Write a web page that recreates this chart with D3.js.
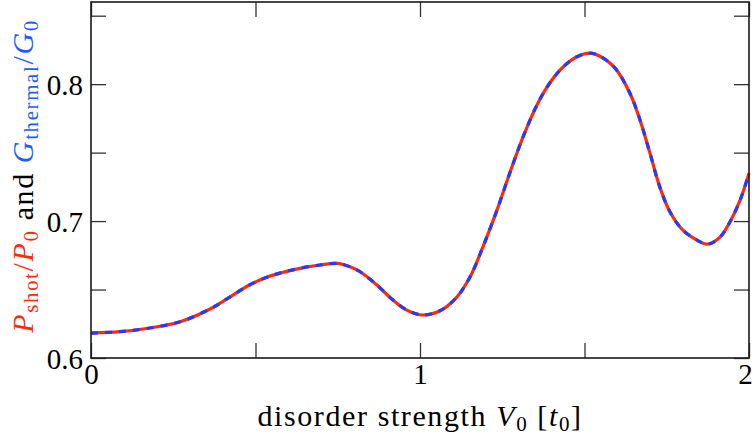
<!DOCTYPE html>
<html>
<head>
<meta charset="utf-8">
<script src="https://cdn.jsdelivr.net/npm/d3@7"></script>
<style>
  body { margin: 0; background: #fff; }
  svg text { font-family: "Liberation Serif", "DejaVu Serif", serif; fill: #000; }
</style>
</head>
<body>
<svg id="chart" width="753" height="439"></svg>
<script>
// disorder strength V0 [t0]
const disorder = [0, 0.088, 0.179, 0.271, 0.362, 0.422, 0.483, 0.544, 0.574, 0.635, 0.696, 0.748, 0.787, 0.818,
  0.869, 0.918, 0.960, 1.009, 1.061, 1.112, 1.152, 1.191, 1.234, 1.274, 1.313, 1.356, 1.395, 1.435, 1.477,
  1.517, 1.547, 1.593, 1.638, 1.669, 1.699, 1.729, 1.760, 1.799, 1.842, 1.875, 1.912, 1.942, 1.973, 2.0];
// P_shot / P_0
const shotNoise = [0.6182, 0.6192, 0.6219, 0.6265, 0.6358, 0.6445, 0.6535, 0.6598, 0.6620, 0.6655, 0.6679, 0.6691, 0.6666, 0.6630,
  0.6533, 0.6423, 0.6350, 0.6314, 0.6345, 0.6445, 0.6591, 0.6810, 0.7080, 0.7358, 0.7613, 0.7850, 0.8010, 0.8125, 0.8200,
  0.8226, 0.8204, 0.8117, 0.7934, 0.7737, 0.7496, 0.7248, 0.7066, 0.6934, 0.6861, 0.6832, 0.6883, 0.6993, 0.7153, 0.7350];
// G_thermal / G_0 (lies on top of the shot-noise curve)
const thermalCond = [0.6182, 0.6192, 0.6219, 0.6265, 0.6358, 0.6445, 0.6535, 0.6598, 0.6620, 0.6655, 0.6679, 0.6691, 0.6666, 0.6630,
  0.6533, 0.6423, 0.6350, 0.6314, 0.6345, 0.6445, 0.6591, 0.6810, 0.7080, 0.7358, 0.7613, 0.7850, 0.8010, 0.8125, 0.8200,
  0.8226, 0.8204, 0.8117, 0.7934, 0.7737, 0.7496, 0.7248, 0.7066, 0.6934, 0.6861, 0.6832, 0.6883, 0.6993, 0.7153, 0.7350];

const xTicks = [0, 0.5, 1, 1.5, 2];
const xTickLabels = [0, 1, 2];
const yTicks = [0.6, 0.65, 0.7, 0.75, 0.8, 0.85];
const yTickLabels = [0.6, 0.7, 0.8];

const red = "#ff2a0a";
const blue = "#1f3cff";
const labelBlue = "#1f5cff";

const margin = { left: 91, right: 4, top: 2, bottom: 81 };
const svg = d3.select("#chart");
const width = +svg.attr("width") - margin.left - margin.right;
const height = +svg.attr("height") - margin.top - margin.bottom;

const x = d3.scaleLinear().domain([0, 2]).range([0, width]);
const y = d3.scaleLinear().domain([0.6, 0.86]).range([height, 0]);

const g = svg.append("g").attr("transform", `translate(${margin.left},${margin.top})`);

// curves
const line = d3.line().curve(d3.curveCatmullRom.alpha(0.5))
  .x(d => x(d[0])).y(d => y(d[1]));

g.append("path")
  .datum(d3.zip(disorder, shotNoise))
  .attr("fill", "none")
  .attr("stroke", red)
  .attr("stroke-width", 3.2)
  .attr("d", line);

g.append("path")
  .datum(d3.zip(disorder, thermalCond))
  .attr("fill", "none")
  .attr("stroke", blue)
  .attr("stroke-width", 3.2)
  .attr("stroke-dasharray", "7,7")
  .attr("d", line);

// inward ticks on all four sides
const tickLen = 15;
const fmt = d3.format(".1f");
const tickStyle = sel => sel.call(s => s.select(".domain").remove())
  .call(s => s.selectAll(".tick line").attr("stroke", "#333").attr("stroke-width", 1.3));

g.append("g").attr("transform", `translate(0,${height})`)
  .call(d3.axisBottom(x).tickValues(xTicks).tickSize(-tickLen).tickFormat(d => xTickLabels.includes(d) ? d : ""))
  .call(tickStyle)
  .call(s => s.selectAll(".tick text").attr("font-size", 29).attr("y", 5).attr("dy", "0.71em")
    .attr("dx", d => d === 2 ? -4 : 0)
    .style("font-family", '"Liberation Serif", serif'));

g.append("g")
  .call(d3.axisTop(x).tickValues(xTicks).tickSize(-tickLen).tickFormat(""))
  .call(tickStyle);

g.append("g")
  .call(d3.axisLeft(y).tickValues(yTicks).tickSize(-tickLen)
    .tickFormat(d => yTickLabels.some(v => Math.abs(v - d) < 1e-9) ? fmt(d) : ""))
  .call(tickStyle)
  .call(s => s.selectAll(".tick text").attr("font-size", 29).attr("x", -8).attr("dy", "0.35em")
    .style("font-family", '"Liberation Serif", serif'));

g.append("g").attr("transform", `translate(${width},0)`)
  .call(d3.axisRight(y).tickValues(yTicks).tickSize(-tickLen).tickFormat(""))
  .call(tickStyle);

// frame
g.append("rect")
  .attr("width", width).attr("height", height)
  .attr("fill", "none").attr("stroke", "#1a1a1a").attr("stroke-width", 1.6);

// x label
const xl = svg.append("text")
  .attr("x", margin.left + width / 2).attr("y", 426)
  .attr("text-anchor", "middle").attr("font-size", 30).attr("letter-spacing", 1.6);
xl.append("tspan").text("disorder strength ");
xl.append("tspan").attr("font-style", "italic").text("V");
xl.append("tspan").attr("font-size", 21).attr("dy", 5).text("0");
xl.append("tspan").attr("dy", -5).text(" [");
xl.append("tspan").attr("font-style", "italic").text("t");
xl.append("tspan").attr("font-size", 21).attr("dy", 5).text("0");
xl.append("tspan").attr("dy", -5).text("]");

// y label
const yl = svg.append("text")
  .attr("transform", `translate(33,${margin.top + height / 2 - 4}) rotate(-90)`)
  .attr("text-anchor", "middle").attr("font-size", 30).attr("letter-spacing", 1.6);
const part = (txt, color, opts = {}) => {
  const t = yl.append("tspan").text(txt).style("fill", color);
  if (opts.italic) t.attr("font-style", "italic");
  if (opts.sub) t.attr("font-size", 21).attr("dy", 5);
  if (opts.up) t.attr("dy", -5);
  return t;
};
part("P", red, { italic: true });
part("shot", red, { sub: true });
part("/", red, { up: true });
part("P", red, { italic: true });
part("0", red, { sub: true });
part(" and ", "#000", { up: true });
part("G", labelBlue, { italic: true });
part("thermal", labelBlue, { sub: true });
part("/", labelBlue, { up: true });
part("G", labelBlue, { italic: true });
part("0", labelBlue, { sub: true });
</script>
</body>
</html>
